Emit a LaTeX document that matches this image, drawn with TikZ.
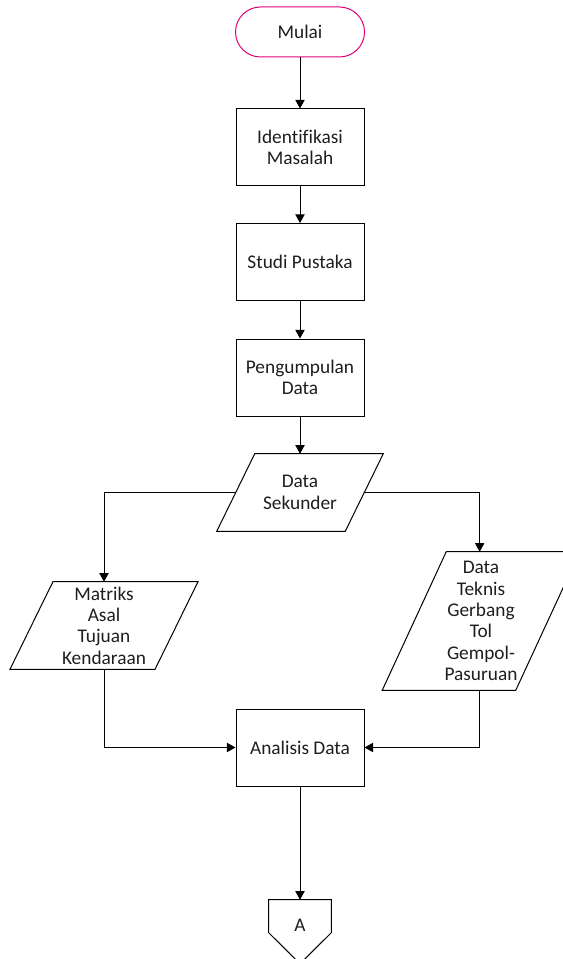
\documentclass[tikz,border=0pt]{standalone}
\usepackage{fontspec}
\setmainfont{Carlito}[Ligatures=NoCommon]
\usetikzlibrary{arrows.meta}
\definecolor{mulaipink}{RGB}{226,0,122}
\definecolor{teks}{RGB}{30,30,30}
\newcommand{\jajar}[2]{\draw[line width=0.75pt] ([xshift=#2]#1.north west) -- ([xshift=#2]#1.north east)
  -- ([xshift=-#2]#1.south east) -- ([xshift=-#2]#1.south west) -- cycle;}
\begin{document}
\begin{tikzpicture}[x=0.75pt,y=-0.75pt,
  every node/.style={font=\fontsize{14.5pt}{16pt}\selectfont, text=teks, align=center, inner sep=1pt},
  mulaibox/.style={draw=mulaipink, line width=0.75pt, rounded corners=18.75pt, minimum width=96.75pt, minimum height=37.5pt},
  prosesbox/.style={draw, line width=0.75pt, minimum width=96pt, minimum height=57.75pt},
  databox/.style={minimum width=#1, minimum height=57.75pt},
  panah/.style={line width=0.75pt, -{Triangle[length=6.5pt,width=7pt]}},
  garis/.style={line width=0.75pt}]
\useasboundingbox (0,0) rectangle (562,959);
\node[mulaibox] (mulai) at (300,32) {Mulai};
\node[prosesbox] (identifikasi) at (300,147.5) {Identifikasi\\Masalah};
\node[prosesbox] (studi) at (300,262) {Studi Pustaka};
\node[prosesbox] (kumpul) at (300,377.5) {Pengumpulan\\Data};
\node[databox=96pt] (sekunder) at (300,492.5) {Data\\Sekunder};
\node[databox=108.4pt, minimum height=65.25pt] (matriks) at (104,625.5) {Matriks\\Asal\\Tujuan\\Kendaraan};
\node[databox=99.75pt, minimum height=103.5pt] (teknis) at (481,621) {Data\\Teknis\\Gerbang\\Tol\\Gempol-\\Pasuruan};
\node[prosesbox] (analisis) at (300,747.5) {Analisis Data};
\node[minimum width=46.5pt, minimum height=37.5pt] (konektor) at (300,925) {A};
% bentuk data
\jajar{sekunder}{14.25pt}
\jajar{matriks}{16.1pt}
\jajar{teknis}{24pt}
\draw[garis] ([yshift=-24.75pt]konektor.north west) -- (konektor.north west) -- (konektor.north east)
  -- ([yshift=-24.75pt]konektor.north east) -- ([yshift=-48pt]konektor.north) -- cycle;
% alur
\draw[panah] (mulai) -- (identifikasi);
\draw[panah] (identifikasi) -- (studi);
\draw[panah] (studi) -- (kumpul);
\draw[panah] (kumpul) -- (sekunder);
\draw[panah] (sekunder.west) -| (matriks.north);
\draw[panah] (sekunder.east) -| ([xshift=-1pt]teknis.north);
\draw[panah] (matriks.south) |- (analisis.west);
\draw[panah] ([xshift=-1pt]teknis.south) |- (analisis.east);
\draw[panah] (analisis) -- (konektor.north);
\end{tikzpicture}
\end{document}
